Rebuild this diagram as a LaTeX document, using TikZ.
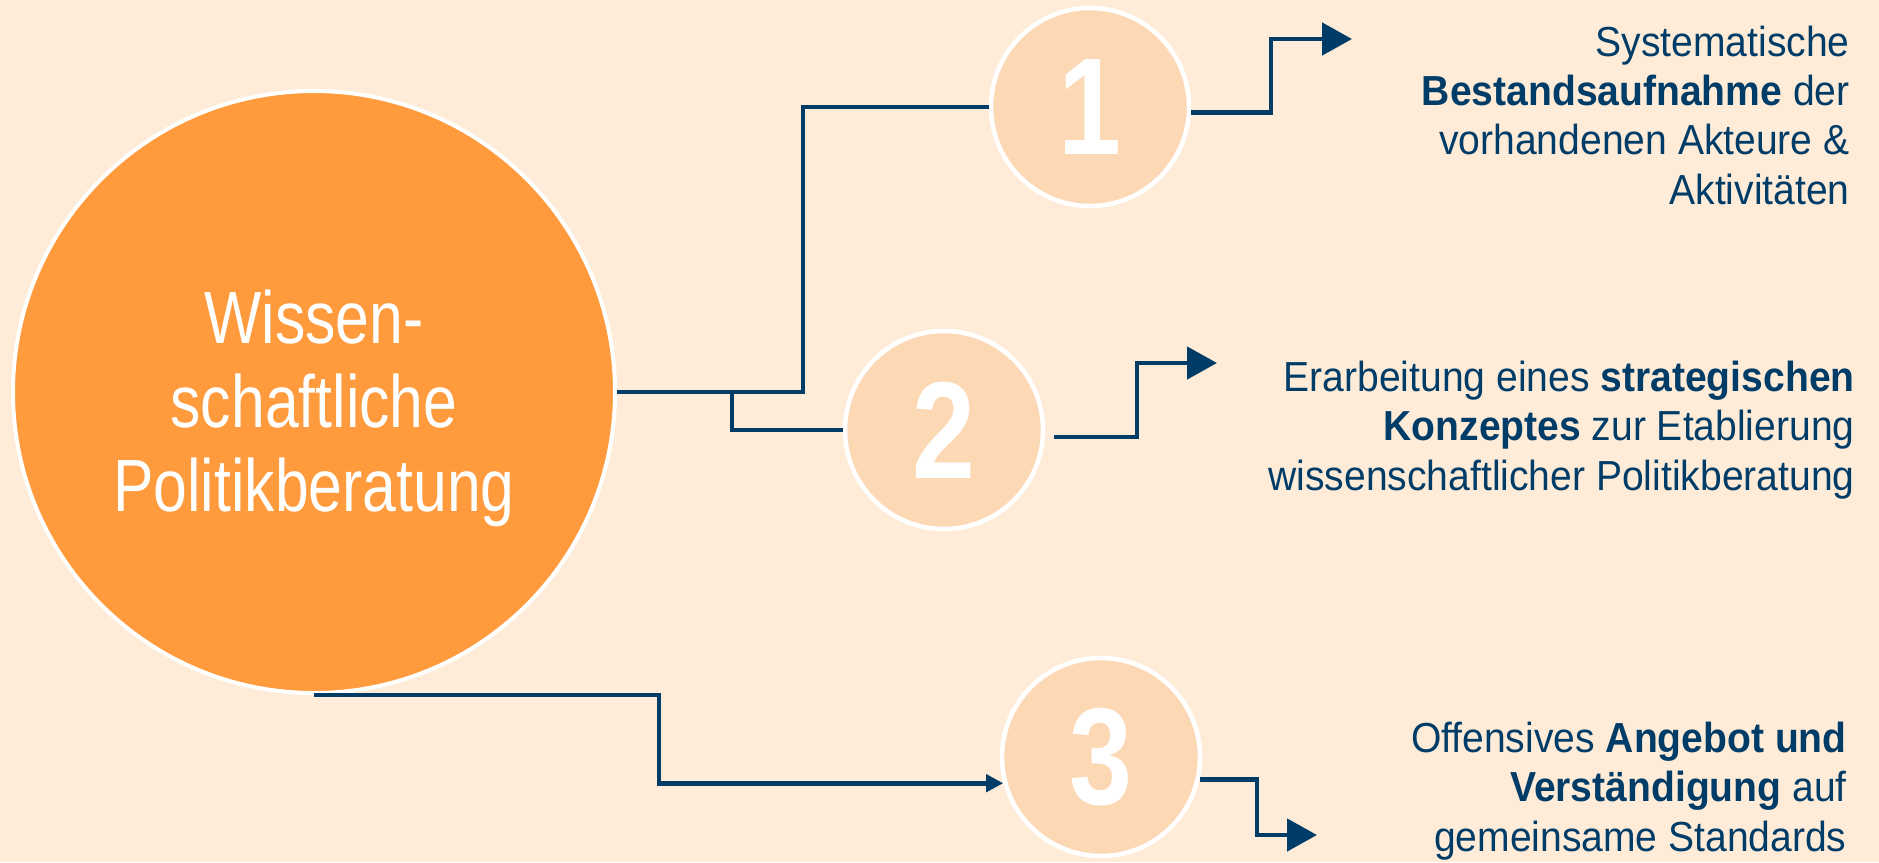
\documentclass[tikz,border=0pt]{standalone}
\usepackage{fontspec}
\setmainfont{Liberation Sans}
\newfontfamily\narrowfont[FakeStretch=0.82]{Liberation Sans}
\newfontfamily\descfont[FakeStretch=0.93]{Liberation Sans}
\usepackage{xcolor}
\usepackage{tikz}
\usetikzlibrary{arrows.meta,calc}

\definecolor{bgpeach}{RGB}{255,236,216}
\definecolor{mainorange}{RGB}{255,154,61}
\definecolor{numfill}{RGB}{253,216,181}
\definecolor{navy}{RGB}{0,60,104}

\begin{document}
\begin{tikzpicture}[x=0.5pt, y=-0.5pt,
  bigcirc/.style={circle, draw=white, line width=2pt, fill=mainorange, minimum size=301pt, inner sep=0pt},
  bigtext/.style={align=center, text=white, inner sep=0pt, font=\narrowfont\fontsize{37}{42}\selectfont},
  numcirc/.style={circle, draw=white, line width=2.25pt, fill=numfill, minimum size=99pt, inner sep=0pt, text=white, font=\narrowfont\bfseries\fontsize{69}{69}\selectfont},
  desc/.style={anchor=base east, inner sep=0pt, align=right, text=navy, font=\descfont\fontsize{21}{24.6}\selectfont},
  conn/.style={draw=navy, line width=2.4pt},
  bigtip/.style={-{Triangle[length=15pt, width=16pt]}},
  smalltip/.style={-{Triangle[length=8.5pt, width=8.5pt]}}
]
\fill[bgpeach] (0,0) rectangle (1879,862);
\useasboundingbox (0,0) rectangle (1879,862);

\node[bigcirc](w) at (314,392) {};
\node[bigtext](wt) at ([yshift=-8pt]w.center) {Wissen-\\schaftliche\\Politikberatung};

\node[numcirc](n1) at (1090,107) {1};
\node[numcirc](n2) at (944,430) {2};
\node[numcirc](n3) at (1101,757) {3};

% anchored at the baseline of the last line
\node[desc](t1) at (1850,204) {Systematische\\\textbf{Bestandsaufnahme} der\\vorhandenen Akteure \&\\Aktivitäten};
\node[desc](t2) at (1855,490) {Erarbeitung eines \textbf{strategischen}\\\textbf{Konzeptes} zur Etablierung\\wissenschaftlicher Politikberatung};
\node[desc](t3) at (1847,851) {Offensives \textbf{Angebot und}\\\textbf{Verständigung} auf\\gemeinsame Standards};

% bends and arrow ends
\coordinate(k1) at (803,0);
\coordinate(k2) at (732,392);
\coordinate(k3) at (659,0);
\coordinate(b1) at (1271,0);
\coordinate(b2) at (1137,0);
\coordinate(b3) at (1257,0);
\coordinate(e1) at (1352,39);
\coordinate(e2) at (1217,363);
\coordinate(e3) at (1317,835);

\draw[conn] (w.east) -| (k1 |- n1.west) -- (n1.west);
\draw[conn] (k2) |- (n2.west);
\draw[conn, smalltip] (w.south) -| (k3 |- n3.195) -- (n3.195);

\draw[conn, bigtip] (n1.-3) -| (b1 |- e1) -- (e1);
\draw[conn, bigtip, shorten <=4.5pt] (n2.-4) -| (b2 |- e2) -- (e2);
\draw[conn, bigtip] (n3.-13) -| (b3 |- e3) -- (e3);
\end{tikzpicture}
\end{document}
